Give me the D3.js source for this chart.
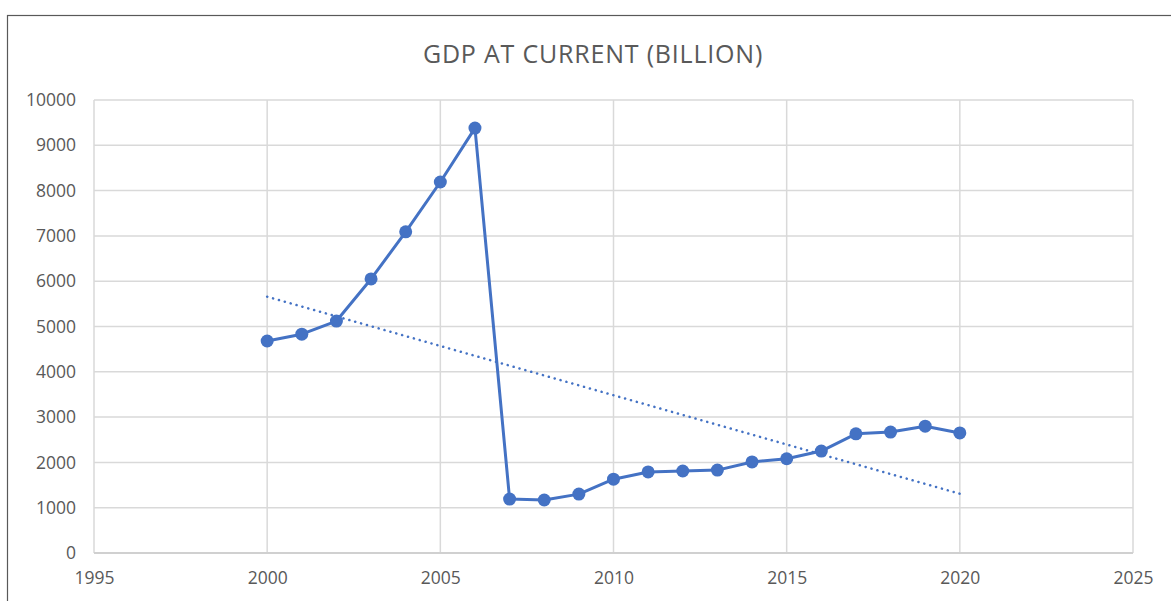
<!DOCTYPE html>
<meta charset="utf-8">
<style>
body { margin: 0; background: #fff; }
text { font-family: "Open Sans", "Liberation Sans", sans-serif; fill: #595959; }
.grid line { stroke: #d9d9d9; stroke-width: 1.5; }
</style>
<svg width="1171" height="601"></svg>
<script src="https://cdn.jsdelivr.net/npm/d3@7"></script>
<script>

// data
var years = [2000, 2001, 2002, 2003, 2004, 2005, 2006, 2007, 2008, 2009, 2010,
             2011, 2012, 2013, 2014, 2015, 2016, 2017, 2018, 2019, 2020];
var gdp = [4680, 4830, 5120, 6050, 7090, 8190, 9380, 1190, 1170, 1300, 1630,
           1790, 1810, 1830, 2010, 2080, 2250, 2630, 2670, 2800, 2650];
var xTicks = [1995, 2000, 2005, 2010, 2015, 2020, 2025];
var yTicks = [0, 1000, 2000, 3000, 4000, 5000, 6000, 7000, 8000, 9000, 10000];
var title = "GDP AT CURRENT (BILLION)";

var svg = d3.select("svg"),
    margin = { top: 100, right: 38, bottom: 48, left: 94 },
    width = +svg.attr("width") - margin.left - margin.right,
    height = +svg.attr("height") - margin.top - margin.bottom;

// chart frame
svg.append("rect")
    .attr("x", 7.5).attr("y", 15.5)
    .attr("width", 1200).attr("height", 700)
    .attr("fill", "#fff")
    .attr("stroke", "#595959")
    .attr("stroke-width", 1.2);

svg.append("text")
    .attr("x", 593).attr("y", 63)
    .attr("text-anchor", "middle")
    .style("font-size", "25px")
    .style("letter-spacing", "0.8px")
    .text(title);

var g = svg.append("g").attr("transform", "translate(" + margin.left + "," + margin.top + ")");

var x = d3.scaleLinear().domain([1995, 2025]).range([0, width]);
var y = d3.scaleLinear().domain([0, 10000]).range([height, 0]);

// gridlines
g.append("g").attr("class", "grid")
    .selectAll("line").data(yTicks).enter().append("line")
    .attr("x1", 0).attr("x2", width)
    .attr("y1", function(d) { return y(d); })
    .attr("y2", function(d) { return y(d); });

g.append("g").attr("class", "grid")
    .selectAll("line").data(xTicks).enter().append("line")
    .attr("y1", 0).attr("y2", height)
    .attr("x1", function(d) { return x(d); })
    .attr("x2", function(d) { return x(d); });

// axes (labels only, the lines come from the grid)
var xAxis = g.append("g")
    .attr("transform", "translate(0," + height + ")")
    .call(d3.axisBottom(x).tickValues(xTicks).tickFormat(d3.format("d")).tickSize(0).tickPadding(19));
var yAxis = g.append("g")
    .call(d3.axisLeft(y).tickValues(yTicks).tickFormat(d3.format("d")).tickSize(0).tickPadding(18));
[xAxis, yAxis].forEach(function(a) {
    a.select(".domain").remove();
    a.selectAll("text").style("font-size", "17.5px").attr("fill", "#595959");
});
g.append("line")
    .attr("x1", 0).attr("x2", width)
    .attr("y1", height).attr("y2", height)
    .attr("stroke", "#d0d0d0").attr("stroke-width", 2);

// linear trendline (least squares)
var pts = years.map(function(d, i) { return [d, gdp[i]]; });
var mx = d3.mean(years), my = d3.mean(gdp);
var slope = d3.sum(pts, function(p) { return (p[0] - mx) * (p[1] - my); }) /
            d3.sum(years, function(d) { return (d - mx) * (d - mx); });
var x0 = years[0], x1 = years[years.length - 1];
g.append("line")
    .attr("x1", x(x0)).attr("y1", y(my + slope * (x0 - mx)))
    .attr("x2", x(x1)).attr("y2", y(my + slope * (x1 - mx)))
    .attr("stroke", "#4472c4")
    .attr("stroke-width", 2.5)
    .attr("stroke-linecap", "round")
    .attr("stroke-dasharray", "0.1,6");

// series
var line = d3.line()
    .x(function(d) { return x(d[0]); })
    .y(function(d) { return y(d[1]); });

g.append("path")
    .datum(pts)
    .attr("fill", "none")
    .attr("stroke", "#4472c4")
    .attr("stroke-width", 3)
    .attr("stroke-linejoin", "round")
    .attr("d", line);

g.selectAll(".dot")
    .data(pts)
    .enter().append("circle")
    .attr("class", "dot")
    .attr("cx", function(d) { return x(d[0]); })
    .attr("cy", function(d) { return y(d[1]); })
    .attr("r", 6.5)
    .attr("fill", "#4472c4");

</script>
